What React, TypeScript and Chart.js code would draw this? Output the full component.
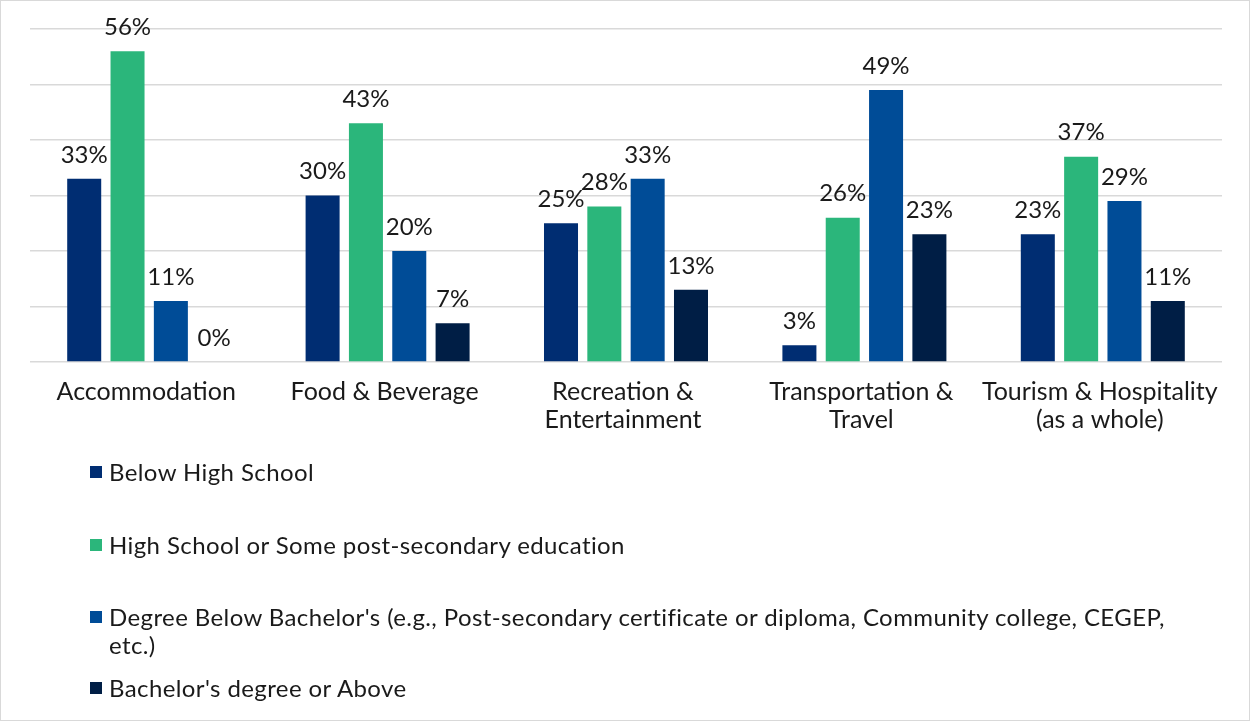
import React, { useEffect, useRef } from "react";
import { Chart, registerables } from "chart.js";

Chart.register(...registerables);

const categories: (string | string[])[] = [
  "Accommodation",
  "Food & Beverage",
  ["Recreation &", "Entertainment"],
  ["Transportation &", "Travel"],
  ["Tourism & Hospitality", "(as a whole)"],
];

const seriesNames = [
  "Below High School",
  "High School or Some post-secondary education",
  "Degree Below Bachelor's (e.g., Post-secondary certificate or diploma, Community college, CEGEP, etc.)",
  "Bachelor's degree or Above",
];

const belowHighSchool = [33, 30, 25, 3, 23];
const highSchoolSome = [56, 43, 28, 26, 37];
const degreeBelowBachelor = [11, 20, 33, 49, 29];
const bachelorAbove = [0, 7, 13, 23, 11];

const colors = ["#002D72", "#2BB67B", "#004C97", "#001E45"];

const yTicks = [0, 10, 20, 30, 40, 50, 60];

const FONT = "Lato, 'Open Sans', sans-serif";

const labelPlugin = {
  id: "barLabels",
  afterDatasetsDraw(chart: any) {
    const ctx = chart.ctx;
    ctx.save();
    ctx.font = `24px ${FONT}`;
    ctx.fillStyle = "#1a1a1a";
    ctx.textAlign = "center";
    ctx.textBaseline = "middle";
    chart.data.datasets.forEach((ds: any, i: number) => {
      const meta = chart.getDatasetMeta(i);
      meta.data.forEach((el: any, j: number) => {
        ctx.fillText(`${ds.data[j]}%`, el.x, el.y - 24);
      });
    });
    ctx.restore();
  },
};

export default function App() {
  const ref = useRef<HTMLCanvasElement>(null);

  useEffect(() => {
    if (!ref.current) return;
    const data = [belowHighSchool, highSchoolSome, degreeBelowBachelor, bachelorAbove];
    const chart = new Chart(ref.current, {
      type: "bar",
      data: {
        labels: categories as any,
        datasets: data.map((d, i) => ({
          label: seriesNames[i],
          data: d,
          backgroundColor: colors[i],
          borderWidth: 0,
          categoryPercentage: 0.727,
          barPercentage: 0.785,
        })),
      },
      options: {
        responsive: false,
        animation: false,
        devicePixelRatio: 1,
        layout: { padding: { left: 30, right: 28, top: 29, bottom: 279 } },
        plugins: { legend: { display: false }, tooltip: { enabled: false } },
        scales: {
          x: {
            grid: { display: false },
            border: { display: false },
            ticks: {
              color: "#1a1a1a",
              font: { family: FONT, size: 25, lineHeight: 1.12 },
              padding: 8,
              labelOffset: -3,
              maxRotation: 0,
              autoSkip: false,
            },
            afterFit: (s: any) => {
              s.height = 80;
            },
          },
          y: {
            min: 0,
            max: 60,
            afterBuildTicks: (s: any) => {
              s.ticks = yTicks.map((v) => ({ value: v }));
            },
            grid: { color: "#d9d9d9", lineWidth: 1.5, drawTicks: false },
            border: { display: false },
            ticks: { display: false },
            afterFit: (s: any) => {
              s.width = 0;
            },
          },
        },
      },
      plugins: [labelPlugin],
    });
    return () => chart.destroy();
  }, []);

  const legendItems = [
    { top: 472, lines: [seriesNames[0]] },
    { top: 545, lines: [seriesNames[1]] },
    {
      top: 617,
      lines: [
        "Degree Below Bachelor's (e.g., Post-secondary certificate or diploma, Community college, CEGEP,",
        "etc.)",
      ],
    },
    { top: 688, lines: [seriesNames[3]] },
  ];

  return (
    <div style={{ position: "absolute", left: 0, top: 0, width: 1250, height: 721, background: "#fff" }}>
      <canvas ref={ref} width={1250} height={721} style={{ position: "absolute", left: 0, top: 0 }} />
      {legendItems.map((it, i) => (
        <div key={i}>
          <div
            style={{
              position: "absolute",
              left: 90,
              top: it.top - 6,
              width: 12,
              height: 12,
              background: colors[i],
            }}
          />
          {it.lines.map((ln, k) => (
            <div
              key={k}
              style={{
                position: "absolute",
                left: 109,
                top: it.top - 14 + k * 28,
                height: 28,
                lineHeight: "28px",
                fontFamily: FONT,
                fontSize: 24,
                letterSpacing: "0.4px",
                color: "#1a1a1a",
                whiteSpace: "nowrap",
              }}
            >
              {ln}
            </div>
          ))}
        </div>
      ))}
      <div
        style={{
          position: "absolute",
          left: 0,
          top: 0,
          width: 1250,
          height: 721,
          boxSizing: "border-box",
          border: "1px solid #d9d9d9",
          pointerEvents: "none",
        }}
      />
    </div>
  );
}
